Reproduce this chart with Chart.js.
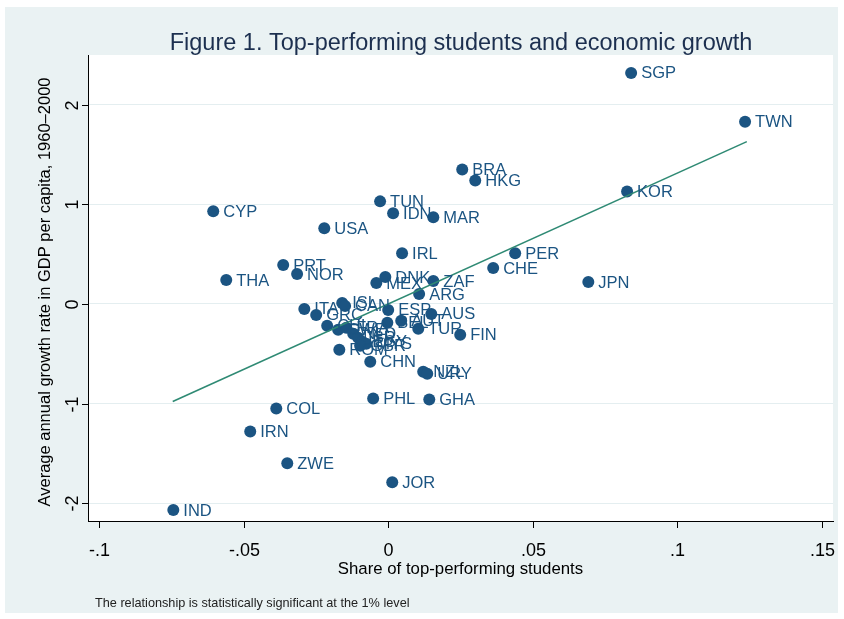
<!DOCTYPE html>
<html>
<head>
<meta charset="utf-8">
<script src="https://cdn.jsdelivr.net/npm/chart.js@4.4.1/dist/chart.umd.min.js"></script>
<style>
html, body { margin: 0; padding: 0; background: #ffffff; }
#wrap { width: 844px; height: 619px; }
</style>
</head>
<body>
<div id="wrap"><canvas id="growthChart" width="844" height="619"></canvas></div>
<script>
// country codes with share of top performers (x) and growth 1960-2000 (y)
const countries = ['SGP','TWN','KOR','BRA','HKG','TUN','IDN','MAR','CYP','USA',
    'IRL','PER','CHE','JPN','PRT','NOR','THA','DNK','MEX','ZAF',
    'ARG','ITA','GRC','ISL','CAN','ESP','AUS','AUT','BEL','TUR',
    'FIN','CHL','SWE','FRA','NLD','ISR','EGY','MYS','GBR','ROM',
    'CHN','NZL','URY','PHL','GHA','COL','IRN','ZWE','JOR','IND'];
const shareTop = [0.0840, 0.1234, 0.0826, 0.0256, 0.0301, -0.0028, 0.0017, 0.0156, -0.0605, -0.0221,
    0.0048, 0.0439, 0.0363, 0.0692, -0.0363, -0.0315, -0.0560, -0.0010, -0.0041, 0.0156,
    0.0107, -0.0290, -0.0249, -0.0159, -0.0149, 0.0000, 0.0149, 0.0045, -0.0003, 0.0104,
    0.0249, -0.0211, -0.0173, -0.0145, -0.0121, -0.0104, -0.0090, -0.0076, -0.0097, -0.0169,
    -0.0062, 0.0121, 0.0135, -0.0052, 0.0142, -0.0387, -0.0477, -0.0349, 0.0014, -0.0743];
const gdpGrowth = [2.32, 1.83, 1.13, 1.35, 1.24, 1.03, 0.91, 0.87, 0.93, 0.76,
    0.51, 0.51, 0.36, 0.22, 0.39, 0.30, 0.24, 0.27, 0.21, 0.23,
    0.10, -0.05, -0.11, 0.01, -0.02, -0.06, -0.10, -0.17, -0.19, -0.25,
    -0.31, -0.22, -0.26, -0.24, -0.30, -0.34, -0.38, -0.40, -0.42, -0.46,
    -0.58, -0.68, -0.70, -0.95, -0.96, -1.05, -1.28, -1.60, -1.79, -2.07];

// fitted regression line end points
const fitX = [-0.0745, 0.1240];
const fitY = [-0.98, 1.63];

const xTicks = [-0.1, -0.05, 0, 0.05, 0.1, 0.15];
const xTickLabels = ['-.1', '-.05', '0', '.05', '.1', '.15'];
const yTicks = [-2, -1, 0, 1, 2];
const yTickLabels = ['-2', '-1', '0', '1', '2'];

const navy = '#1b5482';
const fitColor = '#2f8a74';
const fontName = '"Liberation Sans", Arial, sans-serif';

const decorations = {
    id: 'decorations',
    beforeDraw(chart) {
        const ctx = chart.ctx;
        const a = chart.chartArea;
        ctx.save();
        ctx.fillStyle = '#ffffff';
        ctx.fillRect(0, 0, chart.width, chart.height);
        ctx.fillStyle = '#eaf2f3';
        ctx.fillRect(5, 7, 833, 606);
        ctx.fillStyle = '#ffffff';
        ctx.fillRect(a.left, a.top, a.right - a.left, a.bottom - a.top);
        ctx.restore();
    },
    afterDatasetsDraw(chart) {
        const ctx = chart.ctx;
        const meta = chart.getDatasetMeta(1);
        ctx.save();
        ctx.font = '16.5px ' + fontName;
        ctx.fillStyle = navy;
        ctx.textAlign = 'left';
        ctx.textBaseline = 'middle';
        for (let i = 0; i < meta.data.length; i++)
        {
            const el = meta.data[i];
            ctx.fillText(countries[i], el.x + 10, el.y + 1);
        }
        ctx.restore();
    },
    afterDraw(chart) {
        const ctx = chart.ctx;
        const a = chart.chartArea;
        const xs = chart.scales.x;
        const ys = chart.scales.y;
        ctx.save();
        ctx.strokeStyle = '#000000';
        ctx.lineWidth = 1;
        ctx.fillStyle = '#000000';

        // x ticks
        ctx.font = '18px ' + fontName;
        ctx.textAlign = 'center';
        ctx.textBaseline = 'middle';
        for (let i = 0; i < xTicks.length; i++)
        {
            const px = Math.round(xs.getPixelForValue(xTicks[i])) + 0.5;
            ctx.beginPath();
            ctx.moveTo(px, a.bottom);
            ctx.lineTo(px, a.bottom + 7);
            ctx.stroke();
            ctx.fillText(xTickLabels[i], px, 551);
        }

        // y ticks, rotated like the original
        for (let i = 0; i < yTicks.length; i++)
        {
            const py = Math.round(ys.getPixelForValue(yTicks[i])) + 0.5;
            ctx.beginPath();
            ctx.moveTo(a.left - 6, py);
            ctx.lineTo(a.left, py);
            ctx.stroke();
            ctx.save();
            ctx.translate(73, py);
            ctx.rotate(-Math.PI / 2);
            ctx.fillText(yTickLabels[i], 0, 0);
            ctx.restore();
        }

        // axis titles
        ctx.font = '16.8px ' + fontName;
        ctx.fillText('Share of top-performing students', (a.left + a.right) / 2, 569);
        ctx.save();
        ctx.translate(45, 292);
        ctx.rotate(-Math.PI / 2);
        ctx.font = '16.5px ' + fontName;
        ctx.fillText('Average annual growth rate in GDP per capita, 1960\u20132000', 0, 0);
        ctx.restore();

        // chart title
        ctx.font = '23.5px ' + fontName;
        ctx.fillStyle = '#1c2f4f';
        ctx.fillText('Figure 1. Top-performing students and economic growth', 461, 44);

        // note
        ctx.font = '12.7px ' + fontName;
        ctx.fillStyle = '#222222';
        ctx.textAlign = 'left';
        ctx.fillText('The relationship is statistically significant at the 1% level', 95, 603);
        ctx.restore();
    }
};

const ctx = document.getElementById('growthChart').getContext('2d');

const chartData = {
    datasets: [{
        type: 'line',
        label: 'Fitted values',
        data: fitX.map((x, i) => ({ x: x, y: fitY[i] })),
        borderColor: fitColor,
        borderWidth: 1.6,
        pointRadius: 0,
        fill: false
    }, {
        type: 'scatter',
        label: 'Countries',
        data: shareTop.map((x, i) => ({ x: x, y: gdpGrowth[i] })),
        backgroundColor: navy,
        borderColor: navy,
        borderWidth: 0,
        pointRadius: 6,
        pointHoverRadius: 6
    }]
};

const growthChart = new Chart(ctx, {
    type: 'scatter',
    data: chartData,
    plugins: [decorations],
    options: {
        responsive: false,
        animation: false,
        devicePixelRatio: 1,
        layout: {
            padding: { left: 88, right: 11, top: 55, bottom: 98 }
        },
        plugins: {
            legend: { display: false },
            tooltip: { enabled: false },
            title: { display: false }
        },
        scales: {
            x: {
                type: 'linear',
                min: -0.1038,
                max: 0.1538,
                afterBuildTicks: (axis) => { axis.ticks = xTicks.map(v => ({ value: v })); },
                ticks: { display: false },
                grid: { display: false, drawTicks: false },
                border: { display: true, color: '#000000', width: 1 }
            },
            y: {
                type: 'linear',
                min: -2.18,
                max: 2.5,
                afterBuildTicks: (axis) => { axis.ticks = yTicks.map(v => ({ value: v })); },
                ticks: { display: false },
                grid: { display: true, drawTicks: false, color: '#e4eef0', lineWidth: 1 },
                border: { display: true, color: '#000000', width: 1 }
            }
        }
    }
});
</script>
</body>
</html>
